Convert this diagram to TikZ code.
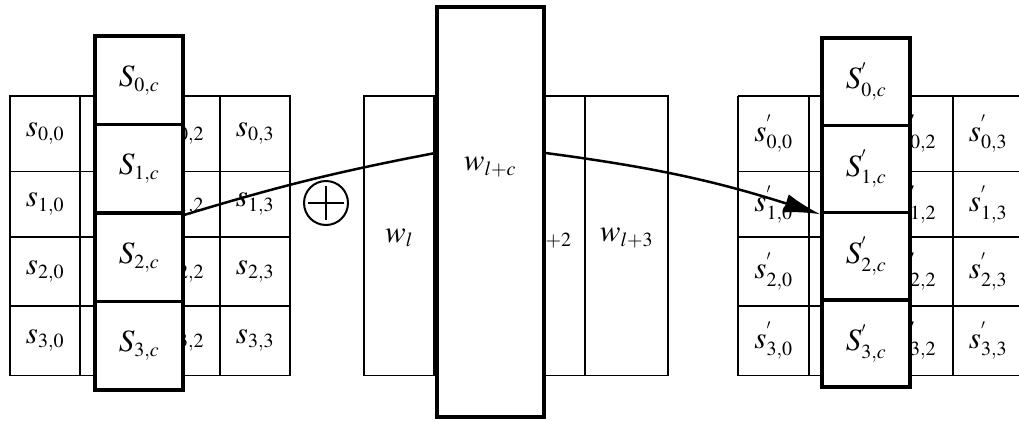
\documentclass[tikz,border=0pt]{standalone}
\usepackage{mathptmx}
\DeclareMathSizes{31}{31}{20}{14}
\usetikzlibrary{arrows.meta}
\begin{document}
\begin{tikzpicture}[x=1pt,y=-1pt,
  gridline/.style={line width=1.5pt},
  lab/.style={inner sep=0pt, font=\fontsize{31}{36}\selectfont},
  thickbox/.style={draw, line width=3.5pt, fill=white, minimum width=88pt, inner sep=0pt, font=\fontsize{31}{36}\selectfont},
  conn/.style={line width=2.5pt},
]
\useasboundingbox (0,0) rectangle (1019,421);

% ---------- left state grid ----------
\draw[gridline] (10,96) rectangle (290,375.5);
\foreach \y in {171.5,237,306} \draw[gridline] (10,\y) -- (290,\y);
\foreach \x in {80,150,220} \draw[gridline] (\x,96) -- (\x,375.5);
\foreach \r/\y in {0/133.75,1/204.25,2/271.5,3/340.75} {
  \node[lab] (L\r0) at (45,\y) {$s_{\r,0}$};
  \node[lab] (L\r3) at (255,\y) {$s_{\r,3}$};
}
\begin{scope}
  \clip (184.75,90) rectangle (220,380);
  \foreach \r/\y in {0/133.75,1/204.25,2/271.5,3/340.75}
    \node[lab] (L\r2) at (185,\y) {$s_{\r,2}$};
\end{scope}
\foreach \r in {0,1,2,3}
  \node[thickbox, minimum height=88.5pt] (C\r) at (139,36+88.5*\r+44.25) {$S_{\r,c}$};

% ---------- key schedule words ----------
\draw[gridline] (364,96) rectangle (668,375.5);
\foreach \x in {434,504,585} \draw[gridline] (\x,96) -- (\x,375.5);
\node[lab] (Wl0) at (399,238) {$w_{l}$};
\node[lab] (Wl3) at (626.5,238) {$w_{l+3}$};
\begin{scope}
  \clip (544.75,90) rectangle (585,380);
  \node[lab] (Wl2) at (545,238) {$w_{l+2}$};
\end{scope}
\node[draw, line width=3.5pt, fill=white, minimum width=107pt, minimum height=410pt, inner sep=0pt] (W) at (490.5,212) {};
\node[lab] (Wlab) at (490,167) {$w_{l+c}$};

% ---------- right state grid ----------
\foreach \y in {96,171.5,237,306,375.5} \draw[gridline] (738,\y) -- (1019,\y);
\foreach \x in {738,809,881,953} \draw[gridline] (\x,96) -- (\x,375.5);
\foreach \r/\y in {0/133.75,1/204.25,2/271.5,3/340.75} {
  \node[lab] (R\r0) at (773.5,\y) {$s^{'}_{\r,0}$};
  \node[lab] (R\r3) at (988,\y) {$s^{'}_{\r,3}$};
}
\begin{scope}
  \clip (911.75,90) rectangle (953,380);
  \foreach \r/\y in {0/133.75,1/204.25,2/271.5,3/340.75}
    \node[lab] (R\r2) at (917,\y) {$s^{'}_{\r,2}$};
\end{scope}
\foreach \r in {0,1,2,3}
  \node[thickbox, minimum height=87.25pt] (D\r) at (866,38+87.25*\r+43.625) {$S^{'}_{\r,c}$};

% ---------- XOR symbol ----------
\node[circle, draw, line width=2pt, minimum size=44pt, inner sep=0pt] (xor) at (326,203) {};
\draw[line width=2.8pt] ([xshift=5pt]xor.west) -- ([xshift=-5pt]xor.east);
\draw[line width=2.8pt] ([yshift=-6pt]xor.north) -- ([yshift=6pt]xor.south);

% ---------- connectors ----------
\coordinate (Win) at ([yshift=59pt]W.west);
\coordinate (Wout) at ([yshift=59pt]W.east);
\draw[conn] (C1.south east) to[bend left=3] (Win);
\draw[conn, -{Latex[length=36pt,width=19pt]}] (Wout) to[bend left=5] (D1.south west);
\end{tikzpicture}
\end{document}
